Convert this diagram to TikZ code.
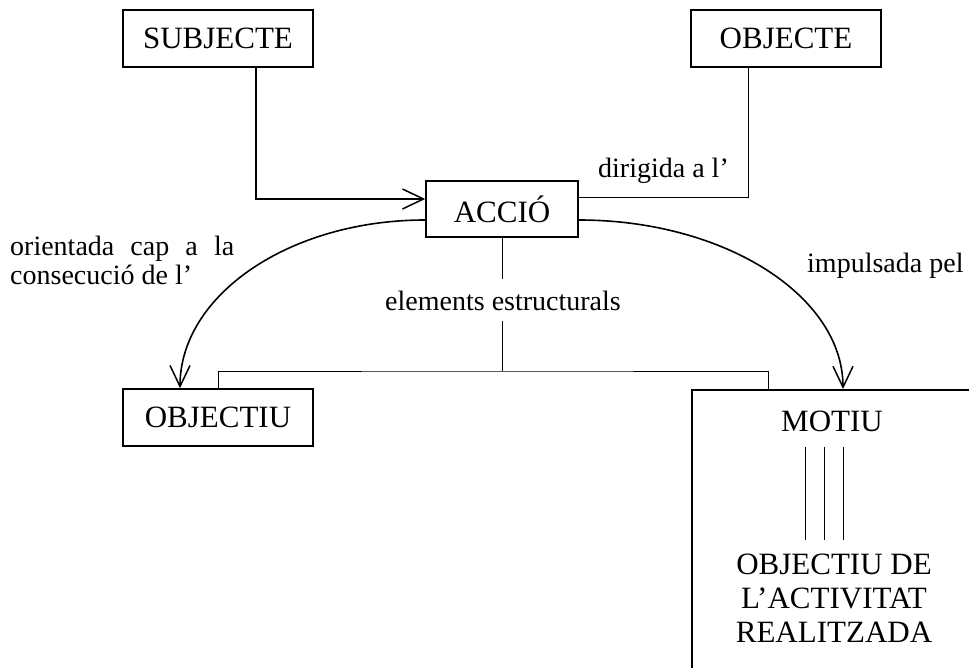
\documentclass[tikz,border=0pt]{standalone}
\usepackage{fontspec}
\setmainfont{Liberation Serif}
\usetikzlibrary{arrows.meta}
% text sizes: capitals in the boxes, lower case for the link labels
\newcommand\capsz{\fontsize{31}{34}\selectfont}
\newcommand\lowsz{\fontsize{28}{29}\selectfont}
\begin{document}
\begin{tikzpicture}[x=1pt,y=-1pt,
  box/.style={draw,line width=1.6pt,minimum width=190pt,minimum height=57pt,inner sep=0pt,font=\capsz},
  link/.style={line width=1pt},
  vtip/.style={-{Straight Barb[length=21pt,width=20pt,line width=1.5pt]}},
  flow/.style={line width=1.6pt,vtip},
  lbl/.style={font=\lowsz,inner sep=0pt}]
\clip (0,0) rectangle (969,668);
\fill[white] (0,0) rectangle (969,668);

% boxes
\node[box] (subj) at (218,38.5) {SUBJECTE};
\node[box] (obj) at (786,38.5) {OBJECTE};
\node[box,minimum width=152pt,minimum height=56pt] (accio) at (502,209) {ACCIÓ};
\node[box] (objectiu) at (218,417.5) {OBJECTIU};
\node[draw,line width=1.6pt,minimum width=302pt,minimum height=330pt,anchor=north] (motiu) at (843,389) {};

% text inside the MOTIU box
\node[font=\capsz,inner xsep=0pt,inner ysep=15pt,anchor=base] (motiulbl) at (832,431) {MOTIU};
\node[font=\capsz,align=center,inner xsep=0pt,inner ysep=14pt,anchor=north] (goal) at (834,540) {OBJECTIU DE\\L’ACTIVITAT\\REALITZADA};

% link labels
\node[lbl,inner ysep=11pt,anchor=base] (struct) at (503,310) {elements estructurals};
\node[lbl,anchor=base west] (dir) at (598,178) {dirigida a l’};
\node[lbl,anchor=base west] (imp) at (807,273) {impulsada pel};
\node[lbl,anchor=north west,align=left] (orient) at (10,236) {\makebox[224pt][s]{orientada cap a la}\\consecució de l’};

% subject and object to the action
\draw[line width=1.2pt,vtip] ([xshift=38pt]subj.south) |- ([yshift=10pt]accio.west);
\draw[link] ([xshift=-38pt]obj.south) |- ([yshift=11pt]accio.east);

% structural elements
\coordinate (fork) at (502,371);
\draw[link] (accio.south) -- (accio.south |- struct.north);
\draw[link] (fork |- struct.south) -- (fork);
\draw[link] (objectiu.north) |- (fork) -| ([xshift=-75pt]motiu.north);

% curved arrows
\draw[flow] ([yshift=-11pt]accio.west) .. controls +(-136,0) and +(0,-93) .. ([xshift=-38pt]objectiu.north);
\draw[flow] ([yshift=-11pt]accio.east) .. controls +(146,0) and +(0,-93) .. (motiu.north);

% triple bar between motive and goal
\foreach \dx in {-29,-10,9}
  \draw[link] ([xshift=\dx pt]goal.north) -- ([xshift=\dx pt]goal.north |- motiulbl.south);
\end{tikzpicture}
\end{document}
